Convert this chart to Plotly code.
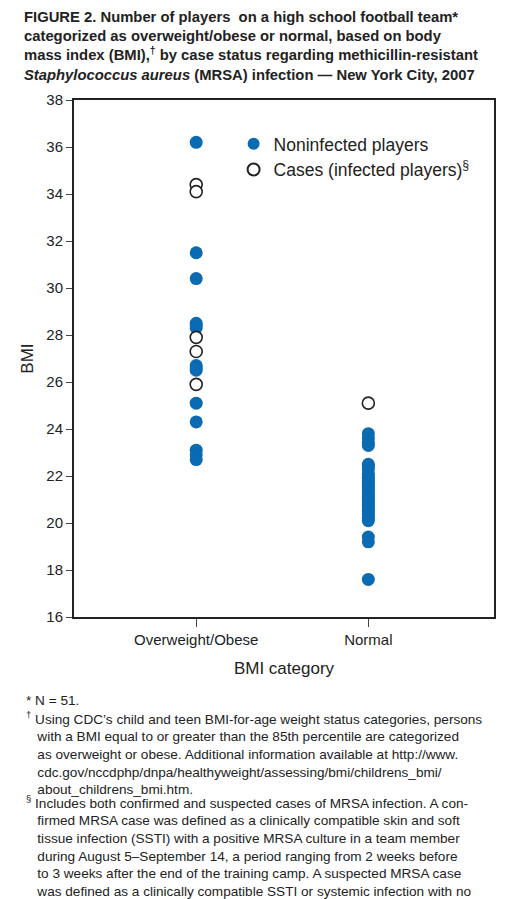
import plotly.graph_objects as go

# BMI values
ow_non = [36.2, 31.5, 30.4, 28.5, 28.3, 26.7, 26.5, 25.1, 24.3, 23.1, 22.9, 22.7, 28.4, 26.6]
ow_case = [34.4, 34.1, 27.9, 27.3, 25.9]
nm_non = [23.8, 23.6, 23.4, 23.3, 22.5, 22.4, 22.3, 22.1, 22.0, 21.9, 21.8, 21.7, 21.6,
          21.5, 21.4, 21.3, 21.2, 21.1, 21.0, 20.9, 20.8, 20.7, 20.6, 20.5, 20.4, 20.3,
          20.2, 20.1, 19.4, 19.2, 17.6]
nm_case = [25.1]
cats = ["Overweight/Obese", "Normal"]
blue = "#0a6ab2"

fig = go.Figure()
fig.add_trace(go.Scatter(
    x=[0] * len(ow_non) + [1] * len(nm_non), y=ow_non + nm_non, mode="markers",
    name="Noninfected players",
    marker=dict(size=13, color=blue, line=dict(width=0))))
fig.add_trace(go.Scatter(
    x=[0] * len(ow_case) + [1] * len(nm_case), y=ow_case + nm_case, mode="markers",
    name="Cases (infected players)<sup>§</sup>",
    marker=dict(size=12, color="white", line=dict(width=1.6, color="#222"))))

fig.update_layout(
    width=512, height=899, paper_bgcolor="white", plot_bgcolor="white",
    margin=dict(l=66, r=26, t=92, b=290),
    font=dict(family="Liberation Sans, Arial", color="#222", size=15),
    showlegend=True,
    legend=dict(x=0.38, y=0.95, xanchor="left", yanchor="top", bgcolor="rgba(0,0,0,0)",
                font=dict(size=17.5), itemsizing="constant", tracegroupgap=0),
    xaxis=dict(range=[-0.71, 1.73], tickvals=[0, 1], ticktext=cats, ticks="outside",
               ticklen=8, showgrid=False, zeroline=False, showline=True, mirror=True,
               linecolor="#222", linewidth=2, tickfont=dict(size=15),
               title=dict(text="BMI category", font=dict(size=17))),
    yaxis=dict(range=[16, 38], dtick=2, ticks="outside", ticklen=6, showgrid=False,
               zeroline=False, showline=True, mirror=True, linecolor="#222", linewidth=2,
               tickfont=dict(size=15), title=dict(text="BMI", font=dict(size=17), standoff=8)),
)

title = ("<b>FIGURE 2. Number of players  on a high school football team*<br>"
         "categorized as overweight/obese or normal, based on body<br>"
         "mass index (BMI),<sup>†</sup> by case status regarding methicillin-resistant<br>"
         "<i>Staphylococcus aureus</i> (MRSA) infection — New York City, 2007</b>")
fig.add_annotation(text=title, xref="paper", yref="paper", x=-0.125, y=1.18,
                   xanchor="left", yanchor="top", showarrow=False, align="left",
                   font=dict(size=14.8, family="Liberation Sans Narrow, Arial Narrow, Liberation Sans"))

notes = [
    (673, "* N = 51."),
    (688, "<sup>†</sup> Using CDC’s child and teen BMI-for-age weight status categories, persons<br>"
          "   with a BMI equal to or greater than the 85th percentile are categorized<br>"
          "   as overweight or obese. Additional information available at http://www.<br>"
          "   cdc.gov/nccdphp/dnpa/healthyweight/assessing/bmi/childrens_bmi/<br>"
          "   about_childrens_bmi.htm."),
    (770, "<sup>§</sup> Includes both confirmed and suspected cases of MRSA infection. A con-<br>"
          "   firmed MRSA case was defined as a clinically compatible skin and soft<br>"
          "   tissue infection (SSTI) with a positive MRSA culture in a team member<br>"
          "   during August 5–September 14, a period ranging from 2 weeks before<br>"
          "   to 3 weeks after the end of the training camp. A suspected MRSA case<br>"
          "   was defined as a clinically compatible SSTI or systemic infection with no<br>"
          "   culture confirmation."),
]
for ypx, txt in notes:
    fig.add_annotation(text=txt, xref="paper", yref="paper", x=-0.12,
                       y=(601 - ypx) / 501,
                       xanchor="left", yanchor="top", showarrow=False, align="left",
                       font=dict(size=13.6, family="Liberation Sans Narrow, Arial Narrow, Liberation Sans"))

fig.write_html("out.html")
